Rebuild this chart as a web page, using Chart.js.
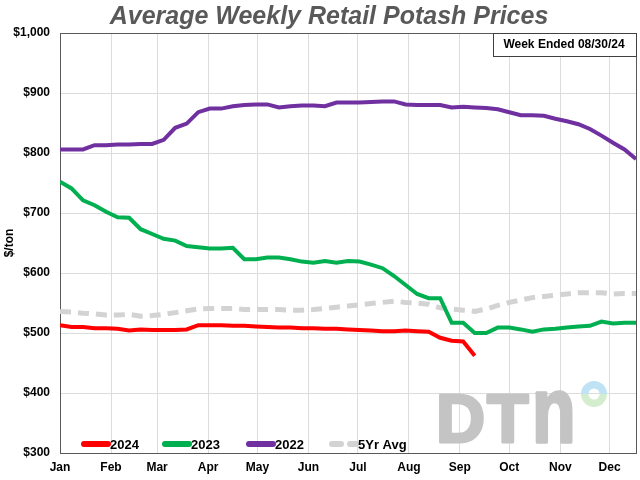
<!DOCTYPE html>
<html>
<head>
<meta charset="utf-8">
<title>Average Weekly Retail Potash Prices</title>
<script src="https://cdn.jsdelivr.net/npm/chart.js@4.4.1/dist/chart.umd.min.js"></script>
<style>
	html, body { margin: 0; padding: 0; background: #fff; }
</style>
</head>
<body>
<canvas id="potash" width="640" height="480"></canvas>
<script>
// month labels and where they sit on the week axis
var monthNames = ['Jan', 'Feb', 'Mar', 'Apr', 'May', 'Jun', 'Jul', 'Aug', 'Sep', 'Oct', 'Nov', 'Dec'];
var monthWeeks = [0, 4.43, 8.43, 12.86, 17.14, 21.57, 25.86, 30.29, 34.71, 39.0, 43.43, 47.71];

var seriesNames = ['2024', '2023', '2022', '5Yr Avg'];
var seriesColors = ['#ff0000', '#00b050', '#7030a0', '#d3d3d3'];

// $/ton, one value per week
var prices2024 = [513, 510, 510, 508, 508, 507, 504, 506, 505, 505, 505, 506, 513, 513, 513, 512, 512, 511, 510, 509,
	509, 508, 508, 507, 507, 506, 505, 504, 503, 503, 504, 503, 502, 492, 487, 486, 462];
var prices2023 = [752, 741, 721, 713, 702, 693, 692, 673, 665, 657, 654, 645, 643, 641, 641, 642, 623, 623, 626, 626,
	623, 619, 617, 620, 617, 620, 619, 614, 608, 595, 580, 565, 558, 558, 517, 517, 500, 500, 509, 509,
	506, 502, 506, 507, 509, 511, 512, 519, 516, 517, 517];
var prices2022 = [806, 806, 806, 813, 813, 814, 814, 815, 815, 822, 842, 849, 868, 874, 874, 878, 880, 881, 881, 876,
	878, 879, 879, 878, 884, 884, 884, 885, 886, 886, 881, 880, 880, 880, 876, 877, 876, 875, 873, 868,
	863, 863, 862, 857, 853, 848, 840, 829, 817, 806, 790];
var prices5yr = [536, 535, 533, 532, 530, 530, 531, 528, 529, 531, 534, 537, 540, 541, 541, 541, 539, 539, 539, 539,
	538, 538, 539, 541, 543, 545, 547, 549, 551, 553, 551, 550, 548, 542, 540, 538, 536, 540, 546, 551,
	555, 559, 561, 563, 565, 567, 567, 567, 565, 566, 566];

var weekEnded = 'Week Ended 08/30/24';

function toPoints(arr) {
	return arr.map(function (v, i) { return { x: i, y: v }; });
}

var fontFamily = '"Liberation Sans", Arial, sans-serif';
Chart.defaults.font.family = fontFamily;

//- extras drawn straight on the canvas: title, logo, frame, legend, note box
var extras = {
	id: 'extras',
	beforeDatasetsDraw: function (chart) {
		var c = chart.ctx;
		var a = chart.chartArea;
		c.save();
		// DTN watermark
		c.fillStyle = '#c4c4c4';
		c.strokeStyle = '#c4c4c4';
		c.lineWidth = 3;
		c.lineJoin = 'round';
		c.font = 'bold 68px ' + fontFamily;
		c.textBaseline = 'alphabetic';
		c.textAlign = 'left';
		c.fillText('D', 436, 442);
		c.strokeText('D', 436, 442);
		c.fillText('T', 487, 442);
		c.strokeText('T', 487, 442);
		c.save();
		c.translate(532, 442);
		c.scale(1.05, 1.36);
		c.fillText('n', 0, 0);
		c.lineWidth = 2.4;
		c.strokeText('n', 0, 0);
		c.restore();
		// ring
		var cx = 594, cy = 394;
		c.beginPath();
		c.arc(cx, cy, 13, Math.PI, 0);
		c.arc(cx, cy, 5.5, 0, Math.PI, true);
		c.closePath();
		c.fillStyle = '#bfe3f4';
		c.fill();
		c.beginPath();
		c.arc(cx, cy, 13, 0, Math.PI);
		c.arc(cx, cy, 5.5, Math.PI, 0, true);
		c.closePath();
		c.fillStyle = '#d5edcf';
		c.fill();
		// top and right frame
		c.strokeStyle = '#595959';
		c.lineWidth = 1;
		c.beginPath();
		c.moveTo(a.left, a.top + 0.5);
		c.lineTo(a.right + 0.5, a.top + 0.5);
		c.lineTo(a.right + 0.5, a.bottom);
		c.stroke();
		c.restore();
	},
	afterDraw: function (chart) {
		var c = chart.ctx;
		var a = chart.chartArea;
		c.save();
		// title
		c.fillStyle = '#595959';
		c.font = 'italic bold 25px ' + fontFamily;
		c.textAlign = 'center';
		c.textBaseline = 'middle';
		c.fillText('Average Weekly Retail Potash Prices', 329, 17);

		// legend
		var legendX = [82, 163, 247, 330];
		var ly = 444;
		c.font = 'bold 13px ' + fontFamily;
		c.textAlign = 'left';
		for (var i = 0; i < seriesNames.length; i++) {
			var x0 = legendX[i];
			c.strokeStyle = seriesColors[i];
			c.lineWidth = 6;
			c.lineCap = 'round';
			c.setLineDash(i === 3 ? [9, 9] : []);
			c.beginPath();
			c.moveTo(x0 + 2, ly);
			c.lineTo(x0 + 26, ly);
			c.stroke();
			c.setLineDash([]);
			c.fillStyle = '#000';
			c.fillText(seriesNames[i], x0 + 28, ly + 1);
		}

		// week ended box
		c.fillStyle = '#fff';
		c.fillRect(493, a.top, a.right - 493, 23);
		c.strokeStyle = '#404040';
		c.lineWidth = 1;
		c.strokeRect(493.5, a.top + 0.5, a.right - 493, 23);
		c.fillStyle = '#000';
		c.font = 'bold 12px ' + fontFamily;
		c.textAlign = 'center';
		c.fillText(weekEnded, 564, a.top + 12);
		c.restore();
	}
};

var lineData = [prices2024, prices2023, prices2022, prices5yr];
var datasets = lineData.map(function (arr, i) {
	return {
		label: seriesNames[i],
		data: toPoints(arr),
		borderColor: seriesColors[i],
		backgroundColor: seriesColors[i],
		borderWidth: i === 3 ? 5 : 4,
		borderDash: i === 3 ? [11, 7] : [],
		pointRadius: 0,
		tension: 0,
		fill: false
	};
});

var ctx = document.getElementById('potash').getContext('2d');
new Chart(ctx, {
	type: 'line',
	data: { datasets: datasets },
	plugins: [extras],
	options: {
		responsive: false,
		animation: false,
		devicePixelRatio: 1,
		layout: { padding: { top: 33, right: 4, left: 0, bottom: 0 } },
		plugins: {
			legend: { display: false },
			title: { display: false },
			tooltip: { enabled: false }
		},
		scales: {
			x: {
				type: 'linear',
				min: 0,
				max: 50,
				afterBuildTicks: function (scale) {
					scale.ticks = monthWeeks.map(function (w) { return { value: w }; });
				},
				afterFit: function (scale) { scale.height = 27; },
				ticks: {
					autoSkip: false,
					maxRotation: 0,
					padding: 7,
					color: '#000',
					font: { size: 12, weight: 'bold' },
					callback: function (v, i) { return monthNames[i]; }
				},
				grid: { color: '#dcdcdc', drawTicks: false },
				border: { color: '#595959' }
			},
			y: {
				min: 300,
				max: 1000,
				afterFit: function (scale) { scale.width = 60; },
				ticks: {
					stepSize: 100,
					padding: 10,
					color: '#000',
					font: { size: 12, weight: 'bold' },
					callback: function (v) { return '$' + v.toLocaleString('en-US'); }
				},
				title: {
					display: true,
					text: '$/ton',
					color: '#000',
					font: { size: 12, weight: 'bold' },
					padding: { top: 2, bottom: 0 }
				},
				grid: { color: '#dcdcdc', drawTicks: false },
				border: { color: '#595959' }
			}
		}
	}
});
</script>
</body>
</html>
